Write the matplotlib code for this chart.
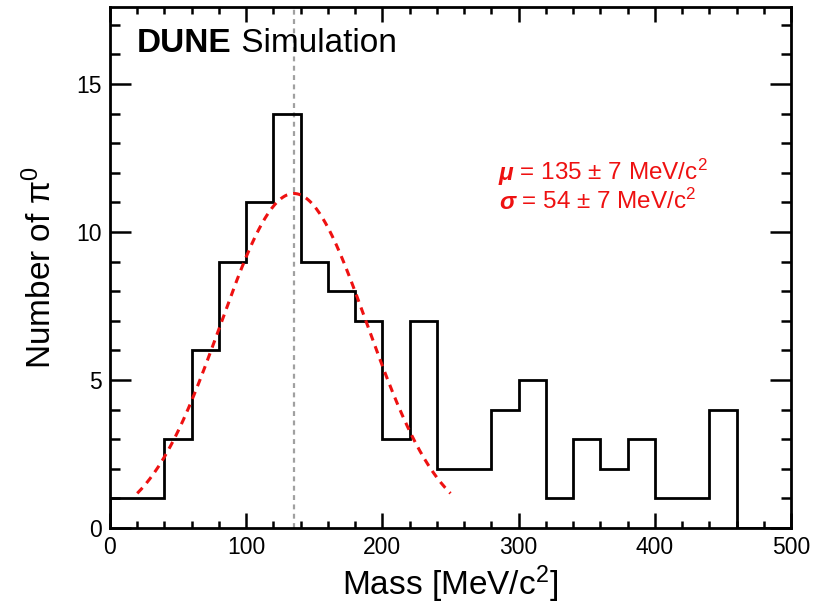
# DUNE simulation: reconstructed pi0 mass histogram with gaussian fit

import numpy as np
import matplotlib
matplotlib.use('Agg')
import matplotlib.pyplot as plt

plt.rcParams['font.family'] = ['Liberation Sans', 'DejaVu Sans']
plt.rcParams['mathtext.fontset'] = 'custom'
plt.rcParams['mathtext.rm'] = 'Liberation Sans'
plt.rcParams['mathtext.it'] = 'Liberation Sans:italic'
plt.rcParams['mathtext.bf'] = 'Liberation Sans:bold'

# histogram: 20 MeV bins from 0 to 500
bin_edges = np.arange(0, 520, 20)
counts = [1, 1, 3, 6, 9, 11, 14, 9, 8, 7, 3, 7, 2, 2, 4, 5, 1, 3, 2, 3, 1, 1, 4, 0, 0]

# gaussian fit result
fit_amp = 11.3
fit_mu = 135
fit_sigma = 54
fit_range = (20, 250)

RED = '#ee1111'

fig = plt.figure(figsize=(8.19, 6.05), dpi=100)
ax = fig.add_axes([0.1343, 0.1273, 0.8315, 0.8611])

ax.stairs(counts, bin_edges, color='black', lw=2.0, baseline=0)

# fit curve
x_fit = np.linspace(fit_range[0], fit_range[1], 300)
y_fit = fit_amp*np.exp(-0.5*((x_fit-fit_mu)/fit_sigma)**2)
ax.plot(x_fit, y_fit, color=RED, lw=2.2, dashes=(2.5, 2.0))

# true pi0 mass
ax.axvline(fit_mu, color='#a0a0a0', lw=1.6, dashes=(2.2, 2.0), zorder=0)

ax.set_xlim(0, 500)
ax.set_ylim(0, 17.6)
ax.set_xticks(np.arange(0, 600, 100))
ax.set_xticks(np.arange(0, 520, 20), minor=True)
ax.set_yticks([0, 5, 10, 15])
ax.set_yticks(np.arange(0, 18, 1), minor=True)

ax.tick_params(which='both', direction='in', top=True, right=True, width=1.8, labelsize=16.5, pad=6)
ax.tick_params(axis='x', which='major', length=11)
ax.tick_params(axis='x', which='minor', length=5)
ax.tick_params(axis='y', which='major', length=15)
ax.tick_params(axis='y', which='minor', length=7.5)
for s in ax.spines.values():
    s.set_linewidth(2.0)

ax.set_xlabel('Mass [MeV/c$^2$]', fontsize=24, labelpad=3)
ax.set_ylabel('Number of $\\mathrm{\\pi}^0$', fontsize=24, labelpad=13)

# labels: a styled head followed by plain text on the same baseline
def label(x, y, head, rest, size, color='black', **head_kw):
    h = ax.text(x, y, head, transform=ax.transAxes, fontsize=size, color=color,
                va='baseline', **head_kw)
    fig.canvas.draw()
    x1 = ax.transAxes.inverted().transform((h.get_window_extent().x1, 0))[0]
    ax.text(x1, y, rest, transform=ax.transAxes, fontsize=size, color=color, va='baseline')

label(0.04, 0.913, 'DUNE', ' Simulation', 24, fontweight='bold')
label(0.571, 0.668, '\u03bc', ' = 135 \u00b1 7 MeV/c$^2$', 17.5, RED, fontweight='bold', fontstyle='italic')
label(0.571, 0.612, '\u03c3', ' = 54 \u00b1 7 MeV/c$^2$', 17.5, RED, fontweight='bold', fontstyle='italic')

fig.savefig('out.png', dpi=100)
